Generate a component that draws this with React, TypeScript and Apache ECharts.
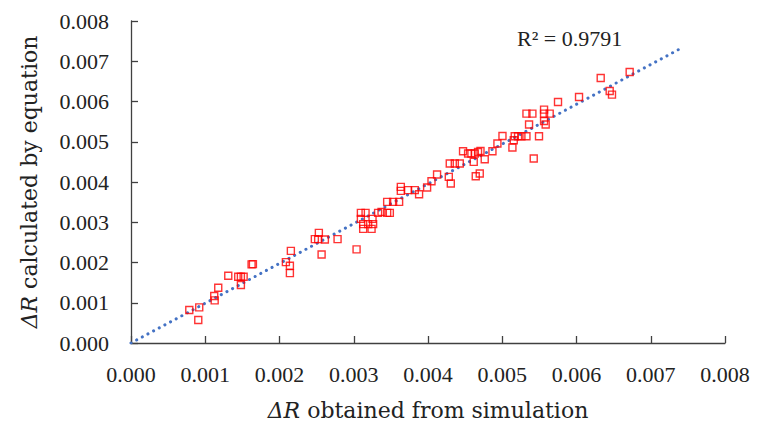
import React, { useEffect, useRef } from "react";
import * as echarts from "echarts";

// Simulation ΔR (x) and ΔR calculated by equation (y)
const simX: number[] = [
  0.000785, 0.000919, 0.000906, 0.001121, 0.001127, 0.001175, 0.00131, 0.001444, 0.00148, 0.001517,
  0.00148, 0.001624, 0.001642, 0.002086, 0.002153, 0.00214, 0.00214, 0.002567, 0.00253, 0.002476,
  0.002521, 0.002611, 0.002782, 0.003038, 0.003096, 0.003159, 0.003096, 0.003127, 0.003194, 0.003261,
  0.003127, 0.00324, 0.003253, 0.003328, 0.003374, 0.00345, 0.003486, 0.00345, 0.00353, 0.003611,
  0.003634, 0.003634, 0.003732, 0.003822, 0.00388, 0.003988, 0.004047, 0.004122, 0.00428, 0.004307,
  0.004293, 0.004361, 0.004428, 0.004616, 0.004643, 0.004697, 0.004472, 0.00454, 0.004585, 0.00463,
  0.004674, 0.004707, 0.004764, 0.004868, 0.004935, 0.005003, 0.005137, 0.005155, 0.005168, 0.005213,
  0.005258, 0.005326, 0.005361, 0.005495, 0.005424, 0.005326, 0.005406, 0.005563, 0.005563, 0.005639,
  0.005563, 0.005585, 0.005751, 0.006034, 0.006326, 0.006447, 0.006478, 0.006716,
];
const eqY: number[] = [
  0.000819, 0.000886, 0.000571, 0.001166, 0.00106, 0.001372, 0.00167, 0.001645, 0.001645, 0.001645,
  0.00144, 0.001953, 0.00196, 0.00201, 0.00229, 0.001918, 0.001737, 0.0022, 0.002737, 0.00258,
  0.00258, 0.002573, 0.00258, 0.002325, 0.003233, 0.003233, 0.003084, 0.002953, 0.002953, 0.002953,
  0.002836, 0.002836, 0.003084, 0.003233, 0.003258, 0.003233, 0.003233, 0.003506, 0.003506, 0.003506,
  0.003878, 0.003779, 0.003797, 0.003797, 0.003697, 0.003863, 0.00402, 0.004186, 0.004127, 0.003963,
  0.004459, 0.004459, 0.004459, 0.004499, 0.004144, 0.004211, 0.004764, 0.004707, 0.004707, 0.004707,
  0.004747, 0.004772, 0.004566, 0.004764, 0.004955, 0.005144, 0.004856, 0.005037, 0.005137, 0.005137,
  0.005137, 0.005137, 0.005427, 0.005137, 0.004583, 0.0057, 0.0057, 0.005799, 0.0057, 0.0057,
  0.005516, 0.005427, 0.005988, 0.006112, 0.006583, 0.00626, 0.006171, 0.006732,
];
const trendEndX = 0.00743;
const r2Label = "R² = 0.9791";
const axisTicks = { min: 0, max: 0.008, interval: 0.001 };

const FONT = "'Liberation Serif', serif";
const TITLE_FONT = "'DejaVu Serif', serif";

export default function App() {
  const ref = useRef<HTMLDivElement>(null);
  useEffect(() => {
    document.body.style.margin = "0";
    if (!ref.current) return;
    const chart = echarts.init(ref.current, undefined, { renderer: "svg" });
    const points = simX.map((x, i) => [x, eqY[i]]);
    // linear trendline through origin (least squares)
    let sxy = 0, sxx = 0;
    simX.forEach((x, i) => { sxy += x * eqY[i]; sxx += x * x; });
    const slope = sxy / sxx;
    const trend = [[0, 0], [trendEndX, slope * trendEndX]];

    const axisCommon = {
      type: "value" as const,
      min: axisTicks.min,
      max: axisTicks.max,
      interval: axisTicks.interval,
      splitLine: { show: false },
      axisLine: { show: true, lineStyle: { color: "#404040", width: 1.3 } },
      axisTick: { show: true, inside: true, length: 7, lineStyle: { color: "#404040", width: 1.3 } },
      axisLabel: {
        fontFamily: FONT,
        fontSize: 22,
        color: "#222",
        formatter: (v: number) => v.toFixed(3),
      },
      nameLocation: "middle" as const,
      nameTextStyle: {
        fontFamily: TITLE_FONT,
        fontSize: 22,
        color: "#222",
        rich: {
          i: { fontFamily: TITLE_FONT, fontSize: 22, fontStyle: "italic", color: "#222" },
          n: { fontFamily: TITLE_FONT, fontSize: 22, color: "#222" },
        },
      },
    };

    chart.setOption({
      animation: false,
      backgroundColor: "#fff",
      grid: { left: 131, right: 36, top: 21, bottom: 86, containLabel: false },
      xAxis: {
        ...axisCommon,
        name: "{i|ΔR}{n| obtained from simulation}",
        nameGap: 56,
        axisLabel: { ...axisCommon.axisLabel, margin: 20 },
      },
      yAxis: {
        ...axisCommon,
        name: "{i|ΔR}{n| calculated by equation}",
        nameGap: 91,
        axisLabel: { ...axisCommon.axisLabel, margin: 22 },
      },
      graphic: [
        {
          type: "text",
          left: 517,
          top: 27,
          style: { text: r2Label, fontFamily: FONT, fontSize: 22, fill: "#222" },
        },
      ],
      series: [
        {
          type: "line",
          data: trend,
          symbol: "none",
          silent: true,
          lineStyle: { color: "#4472C4", width: 3, type: [0.1, 6.3], cap: "round" },
          z: 1,
        },
        {
          type: "scatter",
          data: points,
          symbol: "rect",
          symbolSize: 7,
          itemStyle: { color: "rgba(255,255,255,0)", borderColor: "#FF0000", borderWidth: 1.4 },
          z: 3,
        },
      ],
    });
    return () => chart.dispose();
  }, []);
  return <div ref={ref} style={{ width: 761, height: 429 }} />;
}
